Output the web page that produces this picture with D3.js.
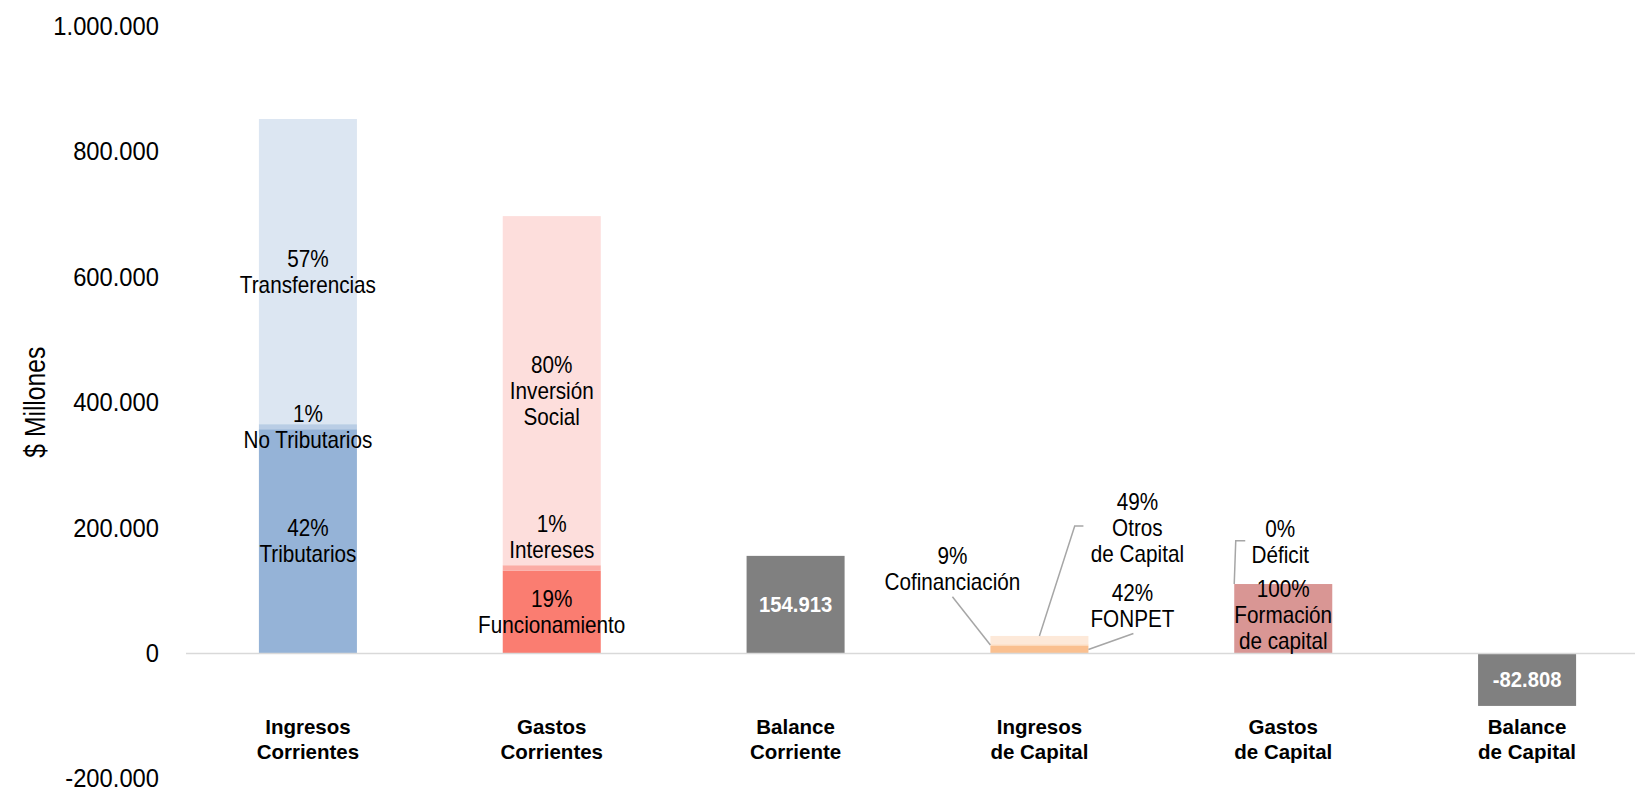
<!DOCTYPE html>
<html>
<head>
<meta charset="utf-8">
<script src="https://cdn.jsdelivr.net/npm/d3@7"></script>
<style>
  html, body { margin: 0; padding: 0; background: #ffffff; }
  svg { display: block; }
</style>
</head>
<body>
<svg id="chart" width="1635" height="790"></svg>
<script>
// ---------------- DATA ----------------
const categories = [
  ["Ingresos", "Corrientes"],
  ["Gastos", "Corrientes"],
  ["Balance", "Corriente"],
  ["Ingresos", "de Capital"],
  ["Gastos", "de Capital"],
  ["Balance", "de Capital"]
];
const ingresosCorrientesNames = [["Tributarios"], ["No Tributarios"], ["Transferencias"]];
const ingresosCorrientesValues = [357000, 8000, 486700];
const gastosCorrientesNames = [["Funcionamiento"], ["Intereses"], ["Inversión", "Social"]];
const gastosCorrientesValues = [131000, 9000, 556787];
const ingresosCapitalNames = [["FONPET"], ["Cofinanciación"], ["Otros", "de Capital"]];
const ingresosCapitalValues = [11420, 2450, 13322];
const gastosCapitalNames = [["Formación", "de capital"], ["Déficit"]];
const gastosCapitalValues = [110000, 0];
const yTicks = [-200000, 0, 200000, 400000, 600000, 800000, 1000000];
const yTitle = "$ Millones";

// ---------------- STYLE ----------------
const colorsIC = ["#95b3d7", "#b9cde5", "#dce6f2"];
const colorsGC = ["#fa7d71", "#fbaca5", "#fddedc"];
const colorsIK = ["#fac090", "#fcd5b4", "#fde9d9"];
const colorsGK = ["#d99694", "#e6b9b8"];
const balanceColor = "#808080";

// label layout: moved labels (position given in value units + px offset), leader lines
const labelLayout = {
  "Intereses":      { v: 185200, dx: 0 },
  "Cofinanciación": { v: 134300, dx: -87, anchor: "left-mid",  pts: [[0, 28]] },
  "Otros":          { v: 200200, dx: 98,  anchor: "center-top", pts: [[-62.7, -1.5], [-54, -1.5]] },
  "FONPET":         { v: 75800,  dx: 93,  anchor: "right-mid", pts: [[1, 28]] },
  "Déficit":        { v: 178000, dx: -3,  anchor: "left-top",  pts: [[-44.5, -0.7], [-35, -0.7]] },
  "Formación":      { v: 60500,  dx: 0 }
};

const svg = d3.select("#chart");
const W = 1635, H = 790;

const x = d3.scaleBand()
  .domain(d3.range(categories.length))
  .range([186, 1649])
  .paddingInner(0.598)
  .paddingOuter(0.299);

const y = d3.scaleLinear()
  .domain([-200000, 1000000])
  .range([778.4, 26]);

const loc = d3.formatLocale({ decimal: ",", thousands: ".", grouping: [3], currency: ["$", ""], minus: "-" });
const fmt = loc.format(",.0f");

const labelFont = "'Liberation Sans', Arial, sans-serif";

// ---------------- Y AXIS LABELS ----------------
const gy = svg.append("g");
gy.selectAll("text").data(yTicks).join("text")
  .attr("transform", d => `translate(159,${y(d)}) scale(0.95,1)`)
  .attr("text-anchor", "end")
  .attr("dy", "0.36em")
  .attr("font-family", labelFont)
  .attr("font-size", 25)
  .attr("fill", "#000")
  .text(d => fmt(d));

svg.append("text")
  .attr("transform", `translate(45,${(y(200000)+y(600000))/2}) rotate(-90) scale(0.85,1)`)
  .attr("text-anchor", "middle")
  .attr("font-family", labelFont)
  .attr("font-size", 29)
  .attr("fill", "#000")
  .text(yTitle);

// ---------------- STACKED BARS ----------------
const stacks = [
  { i: 0, names: ingresosCorrientesNames, values: ingresosCorrientesValues, colors: colorsIC },
  { i: 1, names: gastosCorrientesNames, values: gastosCorrientesValues, colors: colorsGC },
  { i: 3, names: ingresosCapitalNames, values: ingresosCapitalValues, colors: colorsIK },
  { i: 4, names: gastosCapitalNames, values: gastosCapitalValues, colors: colorsGK }
];

const segments = [];
stacks.forEach(s => {
  const total = d3.sum(s.values);
  let acc = 0;
  s.values.forEach((v, k) => {
    segments.push({ i: s.i, y0: acc, y1: acc + v, v, pct: Math.round(v / total * 100),
      lines: s.names[k], color: s.colors[k] });
    acc += v;
  });
});

const gBars = svg.append("g");
gBars.selectAll("rect.seg").data(segments).join("rect")
  .attr("class", "seg")
  .attr("x", d => x(d.i))
  .attr("width", x.bandwidth())
  .attr("y", d => y(d.y1))
  .attr("height", d => y(d.y0) - y(d.y1))
  .attr("fill", d => d.color);

// balances
const balances = [
  { i: 2, v: d3.sum(ingresosCorrientesValues) - d3.sum(gastosCorrientesValues) },
  { i: 5, v: d3.sum(ingresosCapitalValues) - d3.sum(gastosCapitalValues) }
];
gBars.selectAll("rect.bal").data(balances).join("rect")
  .attr("class", "bal")
  .attr("x", d => x(d.i))
  .attr("width", x.bandwidth())
  .attr("y", d => d.v >= 0 ? y(d.v) : y(0) + 1)
  .attr("height", d => Math.abs(y(d.v) - y(0)))
  .attr("fill", balanceColor);

// zero line
svg.append("line")
  .attr("x1", 186).attr("x2", W)
  .attr("y1", y(0) + 0.5).attr("y2", y(0) + 0.5)
  .attr("stroke", "#d9d9d9").attr("stroke-width", 1.5);

// balance labels
svg.append("g").selectAll("text").data(balances).join("text")
  .attr("transform", d => `translate(${x(d.i) + x.bandwidth() / 2},${(y(d.v) + y(0)) / 2}) scale(0.92,1)`)
  .attr("dy", "0.36em")
  .attr("text-anchor", "middle")
  .attr("font-family", labelFont)
  .attr("font-size", 22)
  .attr("font-weight", "bold")
  .attr("fill", "#ffffff")
  .text(d => fmt(d.v));

// ---------------- SEGMENT LABELS ----------------
const lineH = 26;
const gLab = svg.append("g");
const gLead = svg.append("g");
segments.forEach(s => {
  const lay = labelLayout[s.lines[0]];
  const cx = x(s.i) + x.bandwidth() / 2 + (lay ? lay.dx : 0);
  const cy = lay ? y(lay.v) : (y(s.y0) + y(s.y1)) / 2;
  const lines = [s.pct + "%"].concat(s.lines);
  const n = lines.length;
  lines.forEach((t, k) => {
    gLab.append("text")
      .attr("transform", `translate(${cx},${cy - (n - 1) * lineH / 2 + k * lineH}) scale(0.9,1)`)
      .attr("dy", "0.36em")
      .attr("text-anchor", "middle")
      .attr("font-family", labelFont)
      .attr("font-size", 23)
      .attr("fill", "#000")
      .text(t);
  });
  if (lay && lay.anchor) {
    let ax, ay;
    const left = x(s.i), right = x(s.i) + x.bandwidth(), mid = x(s.i) + x.bandwidth() / 2;
    if (lay.anchor === "left-mid") { ax = left; ay = (y(s.y0) + y(s.y1)) / 2; }
    if (lay.anchor === "right-mid") { ax = right; ay = (y(s.y0) + y(s.y1)) / 2; }
    if (lay.anchor === "center-top") { ax = mid; ay = y(s.y1); }
    if (lay.anchor === "left-top") { ax = left; ay = y(s.y1); }
    const pts = [[ax, ay]].concat(lay.pts.map(p => [cx + p[0], cy + p[1]]));
    gLead.append("path")
      .attr("d", d3.line()(pts))
      .attr("fill", "none")
      .attr("stroke", "#a6a6a6")
      .attr("stroke-width", 1.5);
  }
});

// ---------------- CATEGORY LABELS ----------------
const gCat = svg.append("g");
categories.forEach((c, i) => {
  c.forEach((t, k) => {
    gCat.append("text")
      .attr("x", x(i) + x.bandwidth() / 2)
      .attr("y", 734 + k * 25)
      .attr("text-anchor", "middle")
      .attr("font-family", labelFont)
      .attr("font-weight", "bold")
      .attr("font-size", 20.5)
      .attr("fill", "#000")
      .text(t);
  });
});
</script>
</body>
</html>
